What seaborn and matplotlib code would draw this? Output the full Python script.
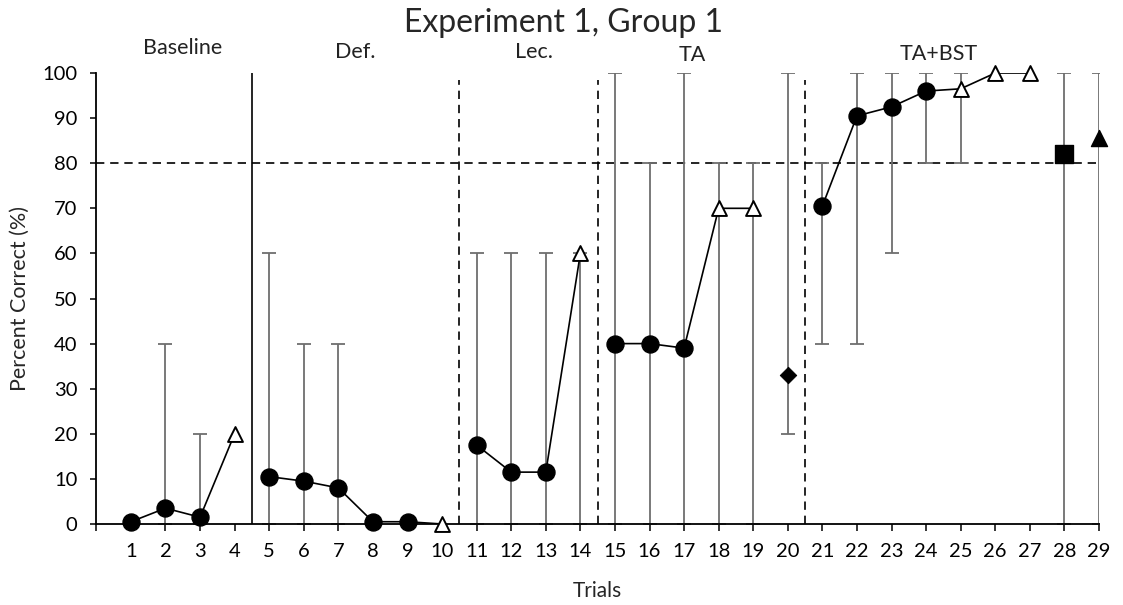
import numpy as np
import pandas as pd
import matplotlib
matplotlib.use("Agg")
import matplotlib.pyplot as plt
import seaborn as sns

# ---- data ----
trials = list(range(1, 30))
pct = [0.5, 3.5, 1.5, 20, 10.5, 9.5, 8, 0.5, 0.5, 0, 17.5, 11.5, 11.5, 60,
       40, 40, 39, 70, 70, 33, 70.5, 90.5, 92.5, 96, 96.5, 100, 100, 82, 85.5]
err_low = [np.nan, 0, 0, np.nan, 0, 0, 0, np.nan, np.nan, np.nan, 0, 0, 0, 0,
           0, 0, 0, 0, 0, 20, 40, 40, 60, 80, 80, np.nan, np.nan, 0, 0]
err_high = [np.nan, 40, 20, np.nan, 60, 40, 40, np.nan, np.nan, np.nan, 60, 60, 60, 60,
            100, 80, 100, 80, 80, 100, 80, 100, 100, 100, 100, np.nan, np.nan, 100, 100]
marker_type = ["circle", "circle", "circle", "open_tri",
               "circle", "circle", "circle", "circle", "circle", "open_tri",
               "circle", "circle", "circle", "open_tri",
               "circle", "circle", "circle", "open_tri", "open_tri",
               "diamond",
               "circle", "circle", "circle", "circle", "open_tri", "open_tri", "open_tri",
               "square", "tri"]
segment = [1, 1, 1, 1, 2, 2, 2, 2, 2, 2, 3, 3, 3, 3, 4, 4, 4, 4, 4, 0,
           5, 5, 5, 5, 5, 5, 5, 0, 0]
phase_names = ["Baseline", "Def.", "Lec.", "TA", "TA+BST"]
phase_centers = [2.5, 7.5, 12.65, 17.25, 24.35]
phase_label_y = [103.4, 102.5, 102.5, 101.8, 102.1]
phase_lines = [4.5, 10.5, 14.5, 20.5]
phase_line_styles = ["solid", "dashed", "dashed", "dashed"]
criterion = 80

df = pd.DataFrame({"trial": trials, "pct": pct, "lo": err_low, "hi": err_high,
                   "mtype": marker_type, "seg": segment})

sns.set_style("ticks")
plt.rcParams["font.family"] = ["Lato", "DejaVu Sans"]

fig = plt.figure(figsize=(11.23, 6.05), dpi=100)
ax = fig.add_axes([0.0858, 0.1339, 0.8928, 0.7454])

# error bars
eb = df.dropna(subset=["lo"])
ax.errorbar(eb["trial"], eb["pct"],
            yerr=[eb["pct"] - eb["lo"], eb["hi"] - eb["pct"]],
            fmt="none", ecolor="#6e6e6e", elinewidth=1.3, capsize=4.7, capthick=1.3,
            zorder=2)

# connecting lines
conn = df[df["seg"] > 0]
sns.lineplot(data=conn, x="trial", y="pct", units="seg", estimator=None,
             color="black", lw=1.2, ax=ax, zorder=3, legend=False)

# markers
styles = {
    "circle": dict(marker="o", s=150, color="black", edgecolor="black"),
    "open_tri": dict(marker="^", s=115, color="white", edgecolor="black", linewidth=1.4),
    "diamond": dict(marker="D", s=70, color="black", edgecolor="black"),
    "square": dict(marker="s", s=150, color="black", edgecolor="black"),
    "tri": dict(marker="^", s=135, color="black", edgecolor="black"),
}
for mt, st in styles.items():
    sub = df[df["mtype"] == mt]
    sns.scatterplot(data=sub, x="trial", y="pct", ax=ax, zorder=4, legend=False,
                    clip_on=False, **st)

# criterion line
ax.plot([0, 29], [criterion, criterion], color="black", lw=1.2,
        linestyle=(0, (5, 3.5)), zorder=1)

# phase lines
for xv, ls in zip(phase_lines, phase_line_styles):
    if ls == "solid":
        ax.plot([xv, xv], [0, 100], color="black", lw=1.2, zorder=1)
    else:
        ax.plot([xv, xv], [0, 98.5], color="black", lw=1.2,
                linestyle=(0, (5, 3.5)), zorder=1)

for name, xc, yl in zip(phase_names, phase_centers, phase_label_y):
    ax.text(xc, yl, name, ha="center", va="bottom", fontsize=15.5, color="#222222")

ax.set_xlim(0, 29)
ax.set_ylim(0, 100)
ax.set_xticks(range(0, 30))
ax.set_xticklabels([""] + [str(t) for t in trials], fontsize=14.5)
ax.set_yticks(range(0, 101, 10))
ax.set_yticklabels([str(v) for v in range(0, 101, 10)], fontsize=14.5)
ax.tick_params(axis="x", length=5, width=1.1, pad=8.5, colors="black")
ax.tick_params(axis="y", length=4.5, width=1.1, pad=9, colors="black")
for side in ["top", "right"]:
    ax.spines[side].set_visible(False)
for side in ["left", "bottom"]:
    ax.spines[side].set_linewidth(1.3)
    ax.spines[side].set_color("black")

ax.set_xlabel("Trials", fontsize=15, labelpad=15)
ax.set_ylabel("Percent Correct (%)", fontsize=15.5, labelpad=9)
fig.text(0.5015, 0.962, "Experiment 1, Group 1", ha="center", va="center", fontsize=23)

fig.savefig("out.png", dpi=100)
